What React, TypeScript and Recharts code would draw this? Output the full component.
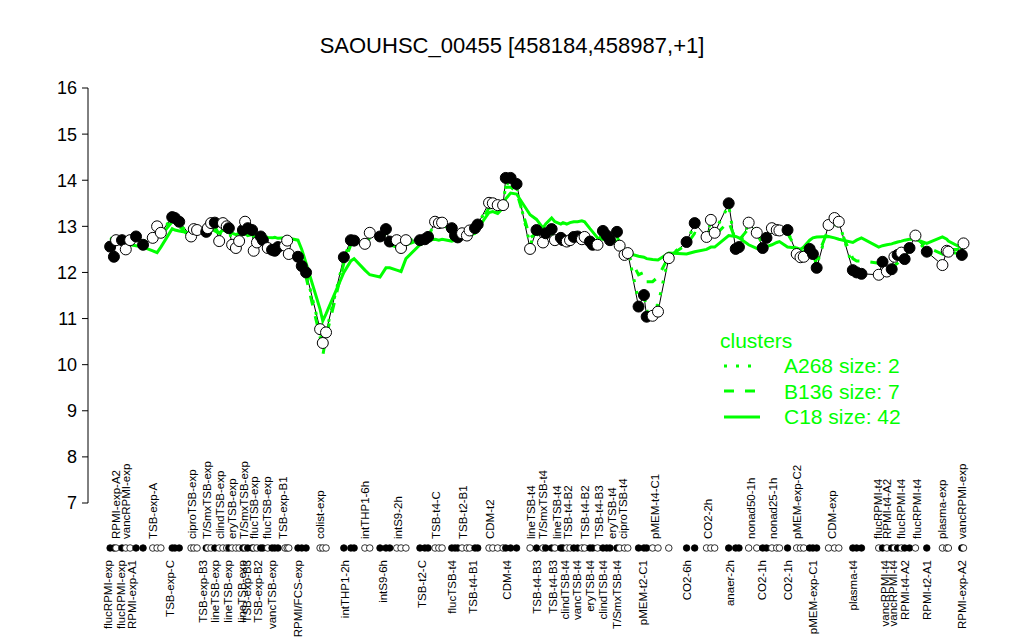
import { ComposedChart, Line, XAxis, YAxis, Legend } from 'recharts';

const GREEN = '#00ff00';
const FONT = '"Liberation Sans", Arial, Helvetica, sans-serif';

// x positions of the conditions (condition slot units, gaps left empty)
const pos = [
  4.1, 4.8, 5.2, 6.3, 7.0, 7.8, 8.9, 10.2, 12.0, 12.8, 13.5,
  15.6, 16.1, 16.9,
  19.1, 19.6, 20.2,
  21.9, 22.2, 22.8, 23.5, 24.3, 25.0, 25.7,
  26.1, 26.7, 27.4, 28.0,
  28.7, 29.1, 29.6, 30.4,
  30.7, 31.3, 32.0, 32.4,
  33.3, 34.1, 34.6, 35.2, 36.5, 36.9, 37.2,
  38.9, 39.6, 40.4,
  43.0, 43.5, 44.1,
  47.4, 48.7, 49.3,
  51.3, 52.2,
  54.1, 55.2, 55.9,
  57.2, 58.0, 58.9,
  61.5, 62.4, 63.0,
  64.3, 65.0, 65.6,
  67.4, 68.0, 68.5,
  69.3, 70.2, 70.7,
  71.7, 72.2,
  74.3, 75.0, 75.9, 76.9,
  77.4, 78.3, 79.4,
  81.9,
  83.1, 84.3, 84.8, 85.9,
  86.5, 87.6, 88.0, 88.7, 89.3,
  90.0, 90.7, 91.5, 92.0, 93.0, 93.5, 94.4,
  95.4, 96.1, 96.7, 98.0,
  98.5, 99.4, 100.0,
  102.0, 103.0, 103.5, 104.6, 105.6,
  107.6,
  110.9, 112.4,
  114.6, 115.4, 116.1,
  118.7, 120.0, 120.6,
  122.4, 123.9,
  125.0, 125.7,
  126.7, 127.6, 128.1, 129.6,
  131.3, 132.0, 132.6,
  133.7, 134.3, 135.0,
  137.2, 138.3, 139.1,
  141.7, 142.4, 143.3,
  146.5, 147.2, 148.0, 148.9, 149.4, 150.0, 150.7, 151.3,
  152.2, 153.3, 155.4,
  158.3, 159.1, 159.4,
  161.9, 162.2,
];

const expr = [
  12.56, 12.34, 12.70, 12.70, 12.50, 12.70, 12.78, 12.60, 12.75, 13.00, 12.86,
  13.20, 13.18, 13.10,
  12.78, 12.94, 12.92,
  12.88, 12.96, 13.07, 13.08, 12.68, 13.07, 13.00,
  12.96, 12.60, 12.53, 12.68,
  12.92, 13.10, 12.96, 12.92,
  12.47, 12.65, 12.78, 12.70,
  12.53, 12.49, 12.47, 12.55, 12.58, 12.69, 12.40,
  12.34, 12.14, 12.00,
  10.77, 10.47, 10.70,
  12.33, 12.70, 12.69,
  12.62, 12.86,
  12.78, 12.94, 12.67,
  12.70, 12.53, 12.70,
  12.70, 12.72, 12.77,
  13.10, 13.07, 13.08,
  12.96, 12.80, 12.76,
  12.85, 12.80, 12.91,
  12.96, 13.04,
  13.51, 13.50, 13.46, 13.46,
  14.05, 14.05, 13.92,
  12.51,
  12.92, 12.65, 12.85, 12.94,
  12.70, 12.75, 12.70, 12.67, 12.70,
  12.77, 12.78, 12.72, 12.77, 12.67, 12.60, 12.60,
  12.90, 12.80, 12.70, 12.88,
  12.58, 12.38, 12.42,
  11.26, 11.51, 11.04, 11.06, 11.15,
  12.31,
  12.66, 13.07,
  12.77, 13.14, 12.86,
  13.50, 12.51, 12.55,
  13.08, 12.86,
  12.53, 12.75,
  12.96, 12.92, 12.91, 12.92,
  12.40, 12.33, 12.34,
  12.51, 12.40, 12.10,
  13.03, 13.18, 13.10,
  12.05, 12.00, 11.97,
  11.95, 12.23, 12.02, 12.07, 12.34, 12.38, 12.43, 12.29,
  12.53, 12.80, 12.45,
  12.16, 12.47, 12.45,
  12.38, 12.63,
];

// 1 = filled marker, 0 = open marker
const filled = [
  1, 1, 0, 1, 0, 0, 1, 1, 0, 0, 0,
  1, 1, 1,
  0, 0, 0,
  1, 0, 0, 1, 0, 0, 0,
  1, 0, 0, 0,
  1, 0, 1, 1,
  0, 0, 1, 1,
  0, 1, 1, 1, 0, 0, 0,
  1, 1, 1,
  0, 0, 0,
  1, 1, 1,
  0, 0,
  1, 1, 1,
  0, 0, 0,
  1, 1, 1,
  0, 0, 0,
  1, 1, 1,
  0, 0, 0,
  1, 1,
  0, 0, 0, 0,
  1, 1, 1,
  0,
  1, 0, 1, 1,
  0, 1, 1, 0, 0,
  1, 1, 0, 0, 1, 1, 0,
  1, 1, 1, 1,
  0, 0, 0,
  1, 1, 1, 0, 0,
  0,
  1, 1,
  0, 0, 0,
  1, 1, 1,
  0, 0,
  1, 1,
  0, 0, 0, 1,
  0, 0, 0,
  1, 1, 1,
  0, 0, 0,
  1, 1, 1,
  0, 1, 0, 1, 0, 1, 0, 1,
  1, 0, 1,
  0, 0, 0,
  1, 0,
];

const c18 = [
  12.7, 12.68, 12.66, 12.63, 12.6, 12.6, 12.58, 12.55, 12.47, 12.43, 12.55,
  12.95, 12.92, 12.9,
  12.85, 12.88, 12.9,
  12.9, 12.92, 12.95, 12.9, 12.85, 12.92, 12.88,
  12.9, 12.85, 12.82, 12.85,
  12.82, 12.85, 12.8, 12.82,
  12.78, 12.8, 12.78, 12.8,
  12.76, 12.75, 12.76, 12.74, 12.75, 12.76, 12.74,
  12.7, 12.5, 12.2,
  11.2, 10.95, 11.1,
  12.0, 12.25, 12.3,
  12.05, 11.95,
  11.9, 12.1, 12.1,
  12.05, 12.02, 12.3,
  12.6, 12.65, 12.7,
  12.72, 12.7, 12.72,
  12.68, 12.7, 12.72,
  12.74, 12.78, 12.8,
  12.85, 12.95,
  13.3, 13.32, 13.28, 13.4,
  13.6, 13.72, 13.7,
  13.25,
  13.15, 12.96, 13.05, 13.18,
  13.1, 13.05, 13.08, 13.05, 13.08,
  13.1, 13.1, 13.12, 13.1, 12.95, 12.88, 12.75,
  12.72, 12.7, 12.68, 12.67,
  12.6, 12.5, 12.42,
  12.35, 12.33, 12.3, 12.28, 12.27,
  12.42,
  12.4, 12.45,
  12.5, 12.55, 12.55,
  12.8, 12.78, 12.75,
  12.6, 12.52,
  12.55, 12.56,
  12.6, 12.65, 12.67, 12.55,
  12.53, 12.5, 12.55,
  12.7, 12.75, 12.77,
  12.78, 12.75, 12.72,
  12.65, 12.7, 12.75,
  12.55, 12.58, 12.6, 12.62, 12.64, 12.66, 12.68, 12.7,
  12.72, 12.72, 12.63,
  12.77, 12.72, 12.68,
  12.53, 12.55,
];

const b136 = [
  12.75, 12.7, 12.72, 12.7, 12.68, 12.7, 12.72, 12.75, 12.72, 12.85, 12.8,
  13.1, 13.1, 13.0,
  12.75, 12.85, 12.88,
  12.9, 12.95, 13.0, 13.0, 12.8, 13.0, 12.95,
  12.9, 12.7, 12.65, 12.72,
  12.9, 13.0, 12.9, 12.88,
  12.6, 12.7, 12.75, 12.72,
  12.6, 12.55, 12.55, 12.6, 12.65, 12.7, 12.55,
  12.35, 12.15, 11.9,
  10.6, 10.2, 10.6,
  12.2, 12.6, 12.65,
  12.6, 12.75,
  12.7, 12.85, 12.6,
  12.55, 12.45, 12.6,
  12.7, 12.72, 12.75,
  13.0, 13.0, 13.05,
  12.9, 12.8, 12.75,
  12.8, 12.8, 12.85,
  12.9, 13.0,
  13.4, 13.4, 13.35, 13.4,
  13.85, 13.85, 13.75,
  12.75,
  12.85, 12.7, 12.8, 12.85,
  12.75, 12.75, 12.72, 12.7, 12.72,
  12.75, 12.78, 12.75, 12.75, 12.7, 12.65, 12.65,
  12.85, 12.8, 12.72, 12.8,
  12.6, 12.45, 12.4,
  11.95, 12.0, 11.8, 11.8, 11.9,
  12.35,
  12.6, 12.85,
  12.75, 12.95, 12.8,
  13.1, 12.7, 12.7,
  12.95, 12.85,
  12.65, 12.75,
  12.9, 12.9, 12.88, 12.85,
  12.5, 12.45, 12.45,
  12.55, 12.5, 12.3,
  12.95, 13.05, 13.0,
  12.3, 12.25, 12.25,
  12.2, 12.2, 12.15, 12.1, 12.15, 12.2, 12.3, 12.35,
  12.55, 12.75, 12.55,
  12.4, 12.55, 12.5,
  12.5, 12.65,
];

const a268 = [
  12.65, 12.5, 12.7, 12.75, 12.55, 12.7, 12.8, 12.65, 12.75, 12.95, 12.85,
  13.2, 13.15, 13.05,
  12.8, 12.9, 12.9,
  12.9, 12.95, 13.05, 13.05, 12.75, 13.05, 12.98,
  12.95, 12.65, 12.6, 12.7,
  12.92, 13.05, 12.95, 12.9,
  12.55, 12.68, 12.78, 12.72,
  12.58, 12.52, 12.5, 12.58, 12.62, 12.7, 12.45,
  12.35, 12.15, 12.0,
  10.75, 10.4, 10.7,
  12.3, 12.7, 12.7,
  12.65, 12.85,
  12.8, 12.95, 12.7,
  12.7, 12.55, 12.68,
  12.75, 12.75, 12.8,
  13.05, 13.05, 13.05,
  12.95, 12.8, 12.78,
  12.85, 12.8, 12.9,
  12.95, 13.05,
  13.45, 13.3, 13.3, 13.4,
  13.95, 13.9, 13.85,
  12.6,
  12.9, 12.7, 12.85, 12.95,
  12.72, 12.75, 12.7, 12.7, 12.7,
  12.78, 12.8, 12.72, 12.75, 12.68, 12.62, 12.6,
  12.9, 12.8, 12.72, 12.88,
  12.6, 12.4, 12.45,
  11.4, 11.55, 11.15, 11.2, 11.3,
  12.35,
  12.65, 13.05,
  12.8, 13.1, 12.9,
  13.45, 12.55, 12.58,
  13.05, 12.88,
  12.58, 12.78,
  12.95, 12.92, 12.9, 12.9,
  12.42, 12.35, 12.38,
  12.5, 12.42, 12.15,
  13.0, 13.15, 13.1,
  12.1, 12.05, 12.0,
  12.0, 12.2, 12.05, 12.1, 12.3, 12.35, 12.4, 12.3,
  12.5, 12.75, 12.45,
  12.2, 12.45, 12.45,
  12.4, 12.6,
];

// condition labels printed above the marker row
const topLabelPos = [
  5.2, 7.0, 12.0, 19.3, 22.0, 24.4, 26.7, 28.9, 30.7, 33.1, 36.1, 43.0, 51.3,
  57.4, 64.4, 69.4, 74.4, 82.0, 84.3, 86.9, 88.9, 92.0, 94.6, 97.0, 99.1, 105.0,
  114.8, 122.8, 126.9, 131.3, 137.8, 146.3, 148.0, 150.7, 153.5, 158.3, 162.0,
];
const topLabels = [
  'RPMI-exp-A2', 'vancRPMI-exp', 'TSB-exp-A', 'ciproTSB-exp', 'T/SmxTSB-exp',
  'clindTSB-exp', 'eryTSB-exp', 'T/SmxTSB-exp', 'flucTSB-exp', 'flucTSB-exp',
  'TSB-exp-B1', 'colist-exp', 'intTHP1-6h', 'intS9-2h', 'TSB-t4-C', 'TSB-t2-B1',
  'CDM-t2', 'lineTSB-t4', 'T/SmxTSB-t4', 'lineTSB-t4', 'TSB-t4-B2', 'TSB-t4-B2',
  'TSB-t4-B3', 'eryTSB-t4', 'ciproTSB-t4', 'pMEM-t4-C1', 'CO2-2h', 'nonad50-1h',
  'nonad25-1h', 'pMEM-exp-C2', 'CDM-exp', 'flucRPMI-t4', 'RPMI-t4-A2',
  'flucRPMI-t4', 'flucRPMI-t4', 'plasma-exp', 'vancRPMI-exp',
];

// condition labels printed below the marker row
const botLabelPos = [
  3.7, 6.1, 8.1, 15.2, 21.3, 23.5, 25.9, 28.5, 29.4, 31.5, 34.1, 38.9, 47.6,
  54.6, 61.9, 67.4, 71.3, 77.6, 83.1, 86.1, 88.3, 90.6, 93.0, 95.4, 98.0, 102.8,
  110.9, 118.9, 124.8, 129.6, 134.3, 141.7, 147.6, 149.1, 151.3, 155.4, 161.9,
];
const botLabels = [
  'flucRPMI-exp', 'flucRPMI-exp', 'RPMI-exp-A1', 'TSB-exp-C', 'TSB-exp-B3',
  'lineTSB-exp', 'lineTSB-exp', 'lineTSB-exp', 'TSB-exp-B3', 'TSB-exp-B2',
  'vancTSB-exp', 'RPMI/FCS-exp', 'intTHP1-2h', 'intS9-6h', 'TSB-t2-C',
  'flucTSB-t4', 'TSB-t4-B1', 'CDM-t4', 'TSB-t4-B3', 'TSB-t4-B3', 'clindTSB-t4',
  'vancTSB-t4', 'eryTSB-t4', 'clindTSB-t4', 'T/SmxTSB-t4', 'pMEM-t2-C1',
  'CO2-6h', 'anaer-2h', 'CO2-1h', 'CO2-1h', 'pMEM-exp-C1', 'plasma-t4',
  'vancRPMI-t4', 'vancRPMI-t4', 'RPMI-t4-A2', 'RPMI-t2-A1', 'RPMI-exp-A2',
];

const yTicks = [7, 8, 9, 10, 11, 12, 13, 14, 15, 16];

const legendItems = [
  { name: 'A268 size: 2', dash: '3 9' },
  { name: 'B136 size: 7', dash: '10 11' },
  { name: 'C18 size: 42', dash: undefined },
];

const rows = pos.map((p, i) => ({
  pos: p,
  expr: expr[i],
  c18: c18[i],
  b136: b136[i],
  a268: a268[i],
}));

const TopTick = (props: any) => {
  const { x, y, index } = props;
  const ty = y + 34;
  return (
    <text x={x} y={ty} dy="0.35em" textAnchor="start" fontSize={11.5} fill="#000"
      transform={`rotate(-90 ${x} ${ty})`}>{topLabels[index]}</text>
  );
};

const BotTick = (props: any) => {
  const { x, y, index } = props;
  const ty = y + 57;
  return (
    <text x={x} y={ty} dy="0.35em" textAnchor="end" fontSize={11.5} fill="#000"
      transform={`rotate(-90 ${x} ${ty})`}>{botLabels[index]}</text>
  );
};

const RugTick = (props: any) => {
  const { x, y, index } = props;
  return <circle cx={x} cy={y + 44} r={3.3} fill={filled[index] ? '#000' : '#fff'} stroke="#000" strokeWidth={0.8} />;
};

const PointDot = (props: any) => {
  const { cx, cy, index } = props;
  return <circle key={`p${index}`} cx={cx} cy={cy} r={5.5} fill={filled[index] ? '#000' : '#fff'} stroke="#000" strokeWidth={1} />;
};

const ClusterLegend = () => (
  <div style={{ fontFamily: FONT, color: GREEN, fontSize: 21, lineHeight: '25px' }}>
    <div style={{ marginLeft: 4 }}>clusters</div>
    {legendItems.map((it) => (
      <div key={it.name} style={{ display: 'flex', alignItems: 'center', height: 25.5 }}>
        <svg width={68} height={10}>
          <line x1={8} x2={44} y1={5} y2={5} stroke={GREEN} strokeWidth={3} strokeDasharray={it.dash} />
        </svg>
        <span>{it.name}</span>
      </div>
    ))}
  </div>
);

export default function App() {
  return (
    <div style={{ position: 'absolute', left: 0, top: 0, width: 1024, height: 640, background: '#fff', fontFamily: FONT }}>
      <div style={{ position: 'absolute', left: 0, width: 1024, top: 33, textAlign: 'center', fontSize: 22, color: '#000' }}>
        SAOUHSC_00455 [458184,458987,+1]
      </div>
      <ComposedChart width={1024} height={640} data={rows} margin={{ top: 88, right: 40, bottom: 134, left: 0 }}
        style={{ fontFamily: FONT }}>
        <XAxis xAxisId="rug" dataKey="pos" type="number" domain={[0, 166]} ticks={pos} interval={0}
          height={1} axisLine={false} tickLine={false} tickSize={0} tickMargin={0} tick={<RugTick />} />
        <XAxis xAxisId="top" dataKey="pos" type="number" domain={[0, 166]} ticks={topLabelPos} interval={0}
          height={1} axisLine={false} tickLine={false} tickSize={0} tickMargin={0} tick={<TopTick />} />
        <XAxis xAxisId="bot" dataKey="pos" type="number" domain={[0, 166]} ticks={botLabelPos} interval={0}
          height={1} axisLine={false} tickLine={false} tickSize={0} tickMargin={0} tick={<BotTick />} />
        <YAxis domain={[7, 16]} ticks={yTicks} width={88} interval={0}
          axisLine={{ stroke: '#000' }} tickLine={{ stroke: '#000' }} tickSize={6} tickMargin={5}
          tick={{ fill: '#000', fontSize: 18 }} />
        <Legend layout="horizontal" verticalAlign="middle" align="center" content={<ClusterLegend />}
          wrapperStyle={{ left: 716, top: 328, width: 240 }} />
        <Line xAxisId="rug" dataKey="expr" stroke="#000" strokeWidth={1} dot={false} isAnimationActive={false} legendType="none" />
        <Line xAxisId="rug" dataKey="a268" stroke={GREEN} strokeWidth={3} strokeDasharray="3 9" dot={false} isAnimationActive={false} />
        <Line xAxisId="rug" dataKey="b136" stroke={GREEN} strokeWidth={3} strokeDasharray="10 11" dot={false} isAnimationActive={false} />
        <Line xAxisId="rug" dataKey="c18" stroke={GREEN} strokeWidth={3} dot={false} isAnimationActive={false} />
        <Line xAxisId="rug" dataKey="expr" stroke="none" dot={<PointDot />} activeDot={false} isAnimationActive={false} legendType="none" />
      </ComposedChart>
    </div>
  );
}
